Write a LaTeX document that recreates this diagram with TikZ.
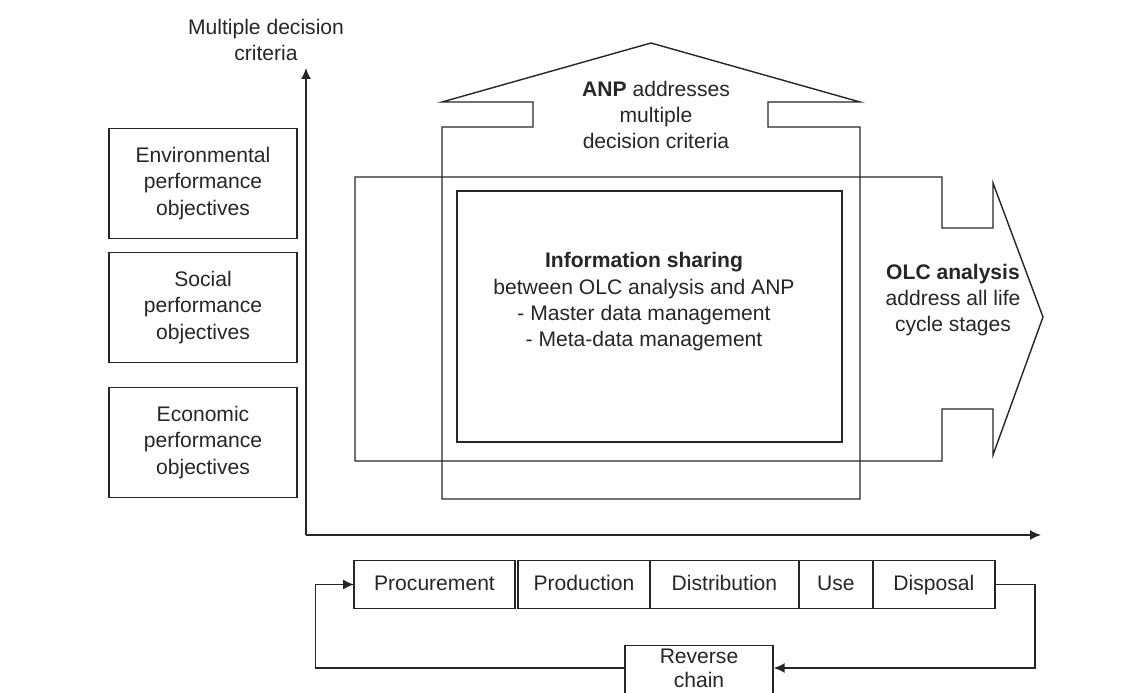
\documentclass[tikz,border=0pt]{standalone}
\usepackage{fontspec}
\setmainfont{Liberation Sans}
\usetikzlibrary{positioning}
\usetikzlibrary{arrows.meta}

\begin{document}
\begin{tikzpicture}[x=0.02cm, y=-0.02cm, line width=0.8pt, color=black!85,
    every node/.style = {font=\fontsize{12}{15}\selectfont},
    txt/.style = {align=center, inner sep=0pt},
    box/.style = {draw, align=center, inner sep=0pt, outer sep=0pt, minimum height=0.96cm, text height=9pt, text depth=2.5pt},
    goal/.style = {draw, align=center, inner sep=0pt, outer sep=0pt, minimum width=3.76cm, minimum height=2.2cm},
    arr/.style = {-{Latex[length=0.22cm,width=0.2cm]}}]
            \clip (0,0) rectangle (1143,693);
            \node[txt](crit) at (266,40){Multiple decision\\criteria};
            \node[goal](env) at (203,183.5){Environmental\\performance\\objectives};
            \node[goal](soc)[below=0.28cm of env]{Social\\performance\\objectives};
            \node[goal](eco)[below=0.5cm of soc]{Economic\\performance\\objectives};
            \coordinate (o) at (306,535);
            \coordinate (ytop) at (306,68);
            \coordinate (xend) at (1041,535);
            \draw[arr] (o) -- (ytop);
            \draw[arr] (o) -- (xend);
            % ANP house and OLC arrow
            \draw (442,499) -- (442,127) -- (533,127) -- (533,102) -- (442,102) -- (651,43) -- (860,102) -- (768,102) -- (768,127) -- (860,127) -- (860,499) -- cycle;
            \draw (355,177) -- (942,177) -- (942,228) -- (993,228) -- (993,183) -- (1043,317) -- (993,455) -- (993,409) -- (942,409) -- (942,461) -- (355,461) -- cycle;
            \node[draw, line width=1.6pt, minimum width=7.7cm, minimum height=5.02cm](info) at (649.5,316.5){};
            \node[txt](anp) at (656,115){\textbf{ANP} addresses\\multiple\\decision criteria};
            \node[txt](olc) at (953,300){\textbf{OLC analysis}\\address all life\\cycle stages};
            \node[txt](share) at (644,302){\textbf{Information sharing}\\between OLC analysis and ANP\\- Master data management\\- Meta-data management};
            % life cycle stages
            \node[box, minimum width=3.22cm](proc) at (434.5,584.5){Procurement};
            \node[box, minimum width=2.64cm](prod)[right=0.06cm of proc]{Production};
            \node[box, minimum width=2.98cm](dist)[right=0pt of prod]{Distribution};
            \node[box, minimum width=1.48cm](use)[right=0pt of dist]{Use};
            \node[box, minimum width=2.44cm](disp)[right=0pt of use]{Disposal};
            \node[draw, minimum width=2.96cm, minimum height=1.2cm, anchor=north](rev) at (699,645){};
            \node[txt, font=\fontsize{12}{13.5}\selectfont](revtxt) at (699,668){Reverse\\chain};
            \draw[arr] (disp.east) -- ++(40,0) |- (rev.east |- revtxt);
            \draw (rev.west |- revtxt) -- ++(-309,0) coordinate (back);
            \draw[arr] (back) |- (proc.west);
        \end{tikzpicture}
\end{document}
